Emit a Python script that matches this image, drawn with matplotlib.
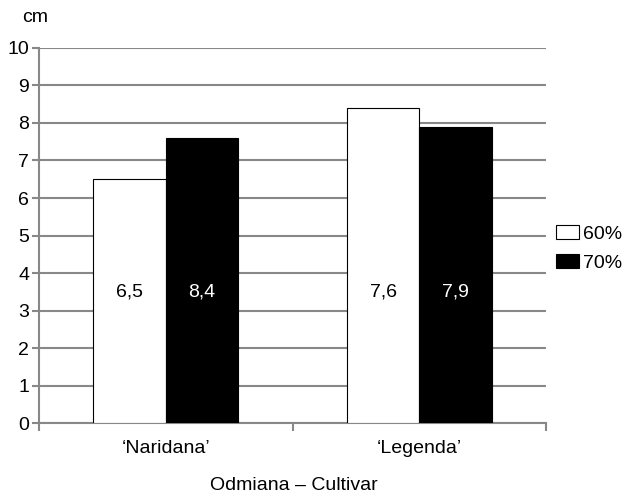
import numpy as np
import matplotlib.pyplot as plt

plt.rcParams['font.family'] = ['Liberation Sans', 'DejaVu Sans']

cultivars = ["\u2018Naridana\u2019", "\u2018Legenda\u2019"]
series = ["60%", "70%"]
v60 = [6.5, 8.4]
v70 = [7.6, 7.9]

fs = 14

fig = plt.figure(figsize=(6.26, 4.99), dpi=100)
ax = fig.add_axes([0.0623, 0.152, 0.81, 0.752])

x = np.arange(len(cultivars))
w = 0.286
ax.bar(x - w / 2, v60, w, color='white', edgecolor='black', linewidth=0.8,
       label=series[0], zorder=3)
ax.bar(x + w / 2, v70, w, color='black', edgecolor='black', linewidth=0.8,
       label=series[1], zorder=3)

# value labels in the bars, written series by series across the groups
labels = [v60, v70]
for i in range(len(cultivars)):
    ax.text(x[i] - w / 2, 3.5, f"{labels[i][0]:.1f}".replace('.', ','),
            ha='center', va='center', fontsize=fs, color='black', zorder=4)
    ax.text(x[i] + w / 2, 3.5, f"{labels[i][1]:.1f}".replace('.', ','),
            ha='center', va='center', fontsize=fs, color='white', zorder=4)

ax.set_xlim(-0.5, 1.5)
ax.set_ylim(0, 10)
ax.set_yticks(range(0, 11))
ax.yaxis.grid(True, color='#888888', linewidth=1.5)
ax.set_axisbelow(True)

ax.set_xticks([-0.5, 0.5, 1.5])
ax.set_xticklabels([])
ax.set_xticks(x, minor=True)
ax.set_xticklabels(cultivars, minor=True, fontsize=fs)
ax.tick_params(axis='x', which='minor', length=0, pad=12)
ax.tick_params(axis='x', which='major', length=6, width=1.5, color='#888888')
ax.tick_params(axis='y', length=5, width=1.5, color='#888888', labelsize=fs, pad=2)

for s in ['top', 'right']:
    ax.spines[s].set_visible(False)
for s in ['left', 'bottom']:
    ax.spines[s].set_color('#888888')
    ax.spines[s].set_linewidth(1.5)

fig.text(0.056, 0.964, "cm", fontsize=fs, ha='center', va='center')
fig.text(0.469, 0.028, "Odmiana \u2013 Cultivar", fontsize=fs, ha='center', va='center')

ax.legend(loc='center left', bbox_to_anchor=(1.02, 0.465), frameon=False,
          fontsize=fs, handlelength=1.15, handleheight=0.7, handletextpad=0.25,
          labelspacing=0.6, borderpad=0, borderaxespad=0)

fig.savefig("out.png", dpi=100)
